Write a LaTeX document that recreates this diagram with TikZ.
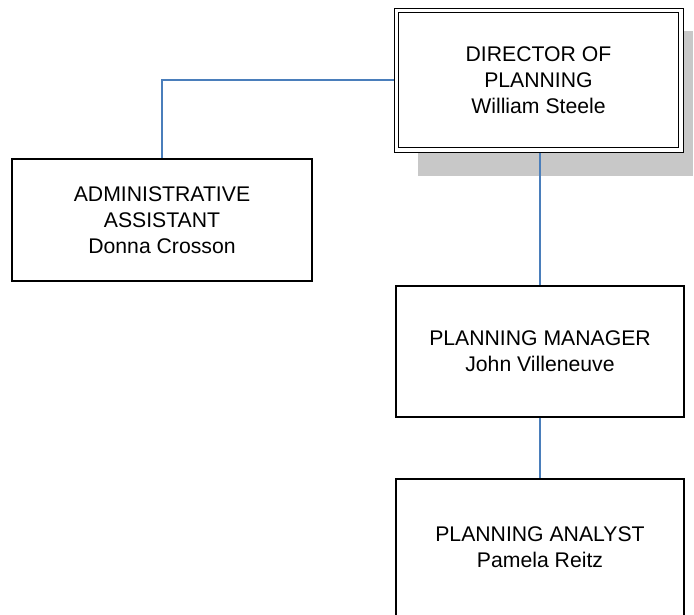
\documentclass[tikz,border=0pt]{standalone}
\usepackage{fontspec}
\setmainfont{Liberation Sans}
\definecolor{linkblue}{HTML}{4A7EBB}
\definecolor{shadowgray}{HTML}{C8C8C8}
\begin{document}
\begin{tikzpicture}[x=1pt,y=-1pt,
  orgbox/.style={draw=black,line width=1.2pt,fill=white,rectangle,
    align=center,inner sep=0pt,
    font=\fontsize{21.2}{25.7}\selectfont},
  link/.style={draw=linkblue,line width=1.3pt}]
  \clip (0,0) rectangle (694,614);
  \fill[white] (0,0) rectangle (694,614);

  % drop shadow behind the director box
  \fill[shadowgray] (418,31) rectangle (693,176);

  \node[orgbox,minimum width=289pt,minimum height=144pt,line width=1pt] (dir) at (538.5,80)
    {DIRECTOR OF\\PLANNING\\William Steele};
  \draw[line width=1.9pt] ([shift={(5,5)}]dir.north west) rectangle ([shift={(-5,-5)}]dir.south east);

  \node[orgbox,minimum width=300pt,minimum height=122pt] (admin) at (162,220)
    {ADMINISTRATIVE\\ASSISTANT\\Donna Crosson};

  \node[orgbox,minimum width=288pt,minimum height=131pt] (mgr) at (540,351.5)
    {PLANNING MANAGER\\John Villeneuve};

  \node[orgbox,minimum width=288pt,minimum height=137pt] (analyst) at (540,547.5)
    {PLANNING ANALYST\\Pamela Reitz};

  % reporting lines
  \draw[link] (dir.west) -| (admin.north);
  \draw[link] (mgr.north |- dir.south) -- (mgr.north);
  \draw[link] (mgr.south) -- (analyst.north);
\end{tikzpicture}
\end{document}
